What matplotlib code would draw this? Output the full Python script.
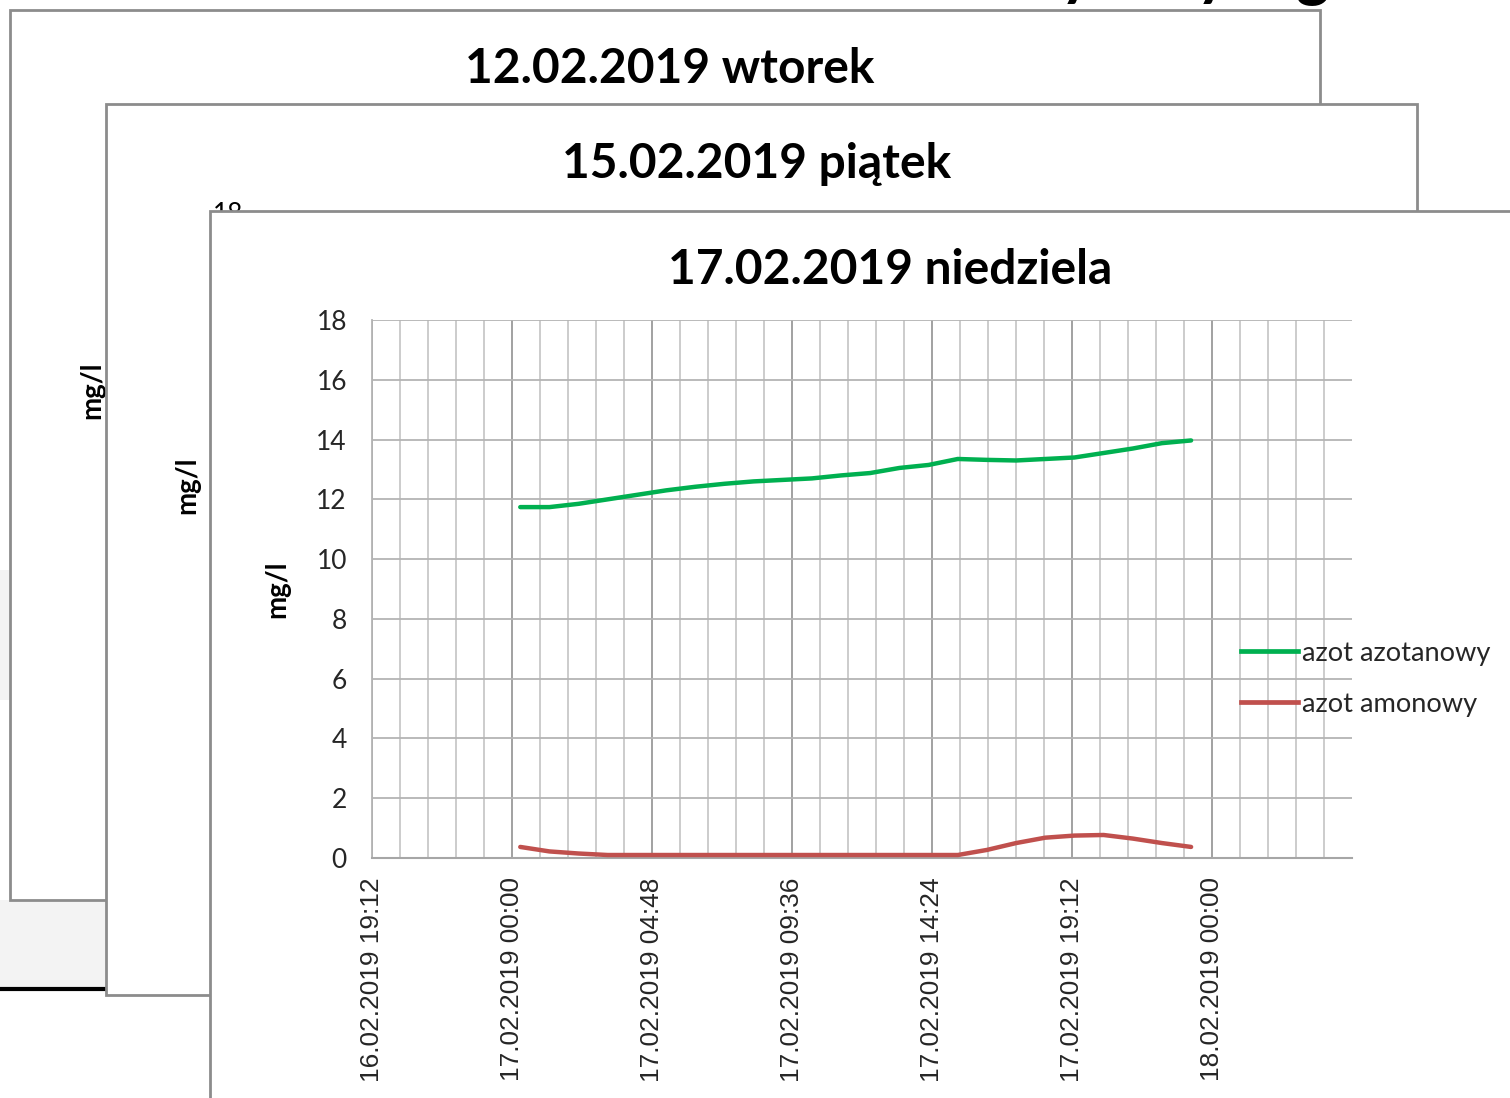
import matplotlib
matplotlib.use("Agg")
import matplotlib.pyplot as plt
import matplotlib.dates as mdates
from matplotlib.patches import Rectangle
from matplotlib.lines import Line2D
import pandas as pd

# ---- data (17.02.2019, hourly) ----
hours = ["00:17", "01:17", "02:17", "03:17", "04:17", "05:17", "06:17", "07:17",
         "08:17", "09:17", "10:17", "11:17", "12:17", "13:17", "14:17", "15:17",
         "16:17", "17:17", "18:17", "19:17", "20:17", "21:17", "22:17", "23:17"]
azot_azotanowy = [11.74, 11.74, 11.85, 12.00, 12.15, 12.30, 12.42, 12.52,
                  12.60, 12.65, 12.70, 12.80, 12.88, 13.05, 13.15, 13.35,
                  13.32, 13.30, 13.35, 13.40, 13.55, 13.70, 13.88, 13.97]
azot_amonowy = [0.37, 0.22, 0.15, 0.10, 0.10, 0.10, 0.10, 0.10,
                0.10, 0.10, 0.10, 0.10, 0.10, 0.10, 0.10, 0.10,
                0.27, 0.50, 0.68, 0.75, 0.77, 0.65, 0.50, 0.37]
series_names = ["azot azotanowy", "azot amonowy"]
series_colors = ["#00b050", "#c0504d"]
card_titles = ["12.02.2019 wtorek", "15.02.2019 piątek", "17.02.2019 niedziela"]
y_ticks = [0, 2, 4, 6, 8, 10, 12, 14, 16, 18]
x_start = "2019-02-16 19:12"
x_last_label = "2019-02-18 00:00"
x_end = "2019-02-18 04:48"

times = pd.to_datetime(["2019-02-17 " + h for h in hours])

W, H = 1510, 1098
fig = plt.figure(figsize=(W / 100, H / 100), dpi=100)
fig.patch.set_facecolor("white")

# background slide, pixel coordinates
bg = fig.add_axes([0, 0, 1, 1])
bg.set_xlim(0, W)
bg.set_ylim(H, 0)
bg.axis("off")

bg.add_patch(Rectangle((0, 570), 12, 130, facecolor="#f3f3f3", edgecolor="none", zorder=0))
bg.add_patch(Rectangle((0, 900), 106, 88, facecolor="#f3f3f3", edgecolor="none", zorder=0))
bg.plot([0, 106], [989, 989], color="black", lw=3, zorder=0.5, solid_capstyle="butt")

# cut-off slide title at the very top (only descenders are visible)
for gx, ch in [(1077, "y"), (1213, "y"), (1312, "g")]:
    bg.text(gx, -6, ch, fontsize=46, fontweight="bold", family="Lato",
            ha="center", va="baseline", zorder=0.5, clip_on=False)

border = "#8c8c8c"
title_font = dict(family="Lato", fontweight="bold", fontsize=34.5, ha="center", va="center")
unit_font = dict(family="Lato", fontweight="bold", fontsize=20, rotation=90,
                 ha="center", va="center")

# card 1
bg.add_patch(Rectangle((10, 10), 1310, 890, facecolor="white", edgecolor=border, lw=2, zorder=1))
bg.text(670, 69, card_titles[0], zorder=2, **title_font)
bg.text(92, 390, "mg/l", zorder=2, **unit_font)

# card 2
bg.add_patch(Rectangle((106, 104), 1311, 891, facecolor="white", edgecolor=border, lw=2, zorder=3))
bg.text(757, 164, card_titles[1], zorder=4, **title_font)
bg.text(187, 485, "mg/l", zorder=4, **unit_font)
bg.text(228, 214, "18", family="Lato", fontsize=19, ha="center", va="center", zorder=4)

# card 3
bg.add_patch(Rectangle((210, 211), 1400, 1000, facecolor="white", edgecolor=border, lw=2, zorder=5))
bg.text(890, 270, card_titles[2], zorder=6, **title_font)

# chart on card 3
ax = fig.add_axes([372 / W, 1 - 858 / H, 980 / W, 538 / H])
ax.set_facecolor("none")

for vals, name, col in zip([azot_azotanowy, azot_amonowy], series_names, series_colors):
    ax.plot(times, vals, color=col, lw=3.2, label=name, solid_capstyle="round", zorder=3)

ax.set_xlim(pd.Timestamp(x_start), pd.Timestamp(x_end))
ax.set_ylim(0, 18)
ax.set_yticks(y_ticks)

major = pd.date_range(x_start, x_last_label, freq="288min")
minor = pd.date_range(x_start, x_end, freq="3456s")[:-1]
ax.set_xticks(mdates.date2num(major))
ax.set_xticks(mdates.date2num(minor), minor=True)
ax.xaxis.set_major_formatter(mdates.DateFormatter("%d.%m.%Y %H:%M"))

ax.grid(which="minor", axis="x", color="#c8c8c8", lw=1.3, zorder=1)
ax.grid(which="major", axis="x", color="#9a9a9a", lw=1.3, zorder=1)
ax.grid(which="major", axis="y", color="#b4b4b4", lw=1.3, zorder=1)
ax.set_axisbelow(True)

for s in ["top", "right"]:
    ax.spines[s].set_visible(False)
ax.spines["left"].set_color("#b4b4b4")
ax.spines["bottom"].set_color("#a6a6a6")
ax.spines["left"].set_linewidth(1.3)
ax.spines["bottom"].set_linewidth(1.5)

ax.tick_params(axis="both", which="both", length=0)
ax.tick_params(axis="y", pad=18, labelsize=19, labelcolor="#262626")
ax.tick_params(axis="x", pad=14, labelsize=18.9, labelcolor="#262626", labelrotation=90)
for lab in ax.get_yticklabels():
    lab.set_family("Lato")
for lab in ax.get_xticklabels():
    lab.set_family("Liberation Sans")

ax.set_ylabel("mg/l", family="Lato", fontweight="bold", fontsize=20)
ax.yaxis.set_label_coords((290 - 372) / 980, 0.5)

handles = [Line2D([], [], color=c, lw=3.4) for c in series_colors]
fig.legend(handles, series_names, loc="upper left",
           bbox_to_anchor=(1241 / W, 1 - 641 / H), frameon=False,
           prop={"family": "Lato", "size": 19.6}, handlelength=2.1,
           handletextpad=0.15, labelspacing=0.95, borderpad=0, borderaxespad=0,
           labelcolor="#262626")

fig.savefig("out.png", dpi=100)
